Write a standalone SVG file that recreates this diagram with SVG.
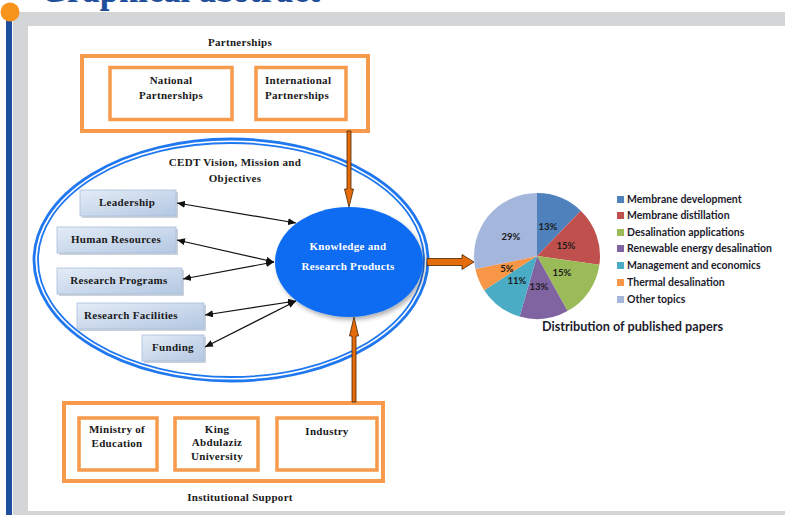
<svg xmlns="http://www.w3.org/2000/svg" width="785" height="515" viewBox="0 0 785 515">
  <defs>
    <style>
      .lbl { font-family: "Liberation Serif", "Times New Roman", serif; font-weight: bold; font-size: 11px; fill: #1a1a1a; letter-spacing: 0.3px; }
      .ctr { text-anchor: middle; }
      .obox { fill: #ffffff; stroke: #f79a4c; stroke-width: 4; }
      .ibox { fill: #ffffff; stroke: #f79a4c; stroke-width: 3.5; }
      .bbox { fill: url(#boxGrad); stroke: #a9bfdc; stroke-width: 0.8; }
      .bshadow { fill: #8e9bab; opacity: 0.45; }
      .ring { fill: none; stroke: #1f78f0; }
      .conn { stroke: #111111; stroke-width: 1.2; fill: none; marker-start: url(#tip); marker-end: url(#tip); }
      .block { fill: #e46c0a; stroke: #4a2500; stroke-width: 0.8; }
      .pie { font-family: Lato, "Liberation Sans", sans-serif; font-weight: bold; font-size: 9.5px; fill: #1a1a1a; text-anchor: middle; }
      .leg { font-family: Lato, "Liberation Sans", sans-serif; font-weight: bold; font-size: 10.5px; fill: #1c1c2c; }
    </style>
    <linearGradient id="boxGrad" x1="0" y1="0" x2="1" y2="1">
      <stop offset="0" stop-color="#e4ecf6"/>
      <stop offset="1" stop-color="#b3c7e2"/>
    </linearGradient>
    <filter id="soft" x="-20%" y="-20%" width="140%" height="140%">
      <feDropShadow dx="2" dy="3" stdDeviation="2" flood-color="#000000" flood-opacity="0.3"/>
    </filter>
    <marker id="tip" viewBox="0 0 8 7" refX="8" refY="3.5" markerWidth="8" markerHeight="7" markerUnits="userSpaceOnUse" orient="auto-start-reverse">
      <path d="M0,0 L8,3.5 L0,7 z" fill="#111111"/>
    </marker>
  </defs>

  <!-- page frame -->
  <rect x="0" y="0" width="785" height="515" fill="#ffffff"/>
  <rect x="13" y="12" width="772" height="14" fill="#d4d5d7"/>
  <rect x="13" y="12" width="15" height="503" fill="#d4d5d7"/>
  <rect x="13" y="511" width="772" height="4" fill="#d4d5d7"/>
  <rect x="6" y="12" width="6" height="503" fill="#1d4f9c"/>
  <circle cx="10" cy="12" r="9.5" fill="#f7941d"/>
  <text x="40" y="1.5" font-family="Liberation Serif, serif" font-weight="bold" font-size="40" fill="#1f4e9a" textLength="280" lengthAdjust="spacingAndGlyphs">Graphical abstract</text>

  <!-- vision ellipse -->
  <g id="vision">
    <ellipse class="ring" cx="231" cy="260" rx="197" ry="121" stroke-width="2.8"/>
    <ellipse class="ring" cx="231" cy="260" rx="193" ry="117" stroke-width="1.8"/>
    <text class="lbl ctr" x="235" y="166">CEDT Vision, Mission and</text>
    <text class="lbl ctr" x="235" y="182">Objectives</text>
  </g>

  <!-- partnerships -->
  <g id="partnerships">
    <text class="lbl ctr" x="240" y="46">Partnerships</text>
    <rect class="obox" x="82" y="56" width="286" height="75"/>
  </g>
  <g id="national">
    <rect class="ibox" x="110" y="67.5" width="122" height="52"/>
    <text class="lbl ctr" x="171" y="84">National</text>
    <text class="lbl ctr" x="171" y="99">Partnerships</text>
  </g>
  <g id="international">
    <rect class="ibox" x="256" y="67.5" width="90" height="52"/>
    <text class="lbl" x="265" y="84">International</text>
    <text class="lbl" x="265" y="99">Partnerships</text>
  </g>

  <!-- pillars -->
  <g id="leadership">
    <rect class="bshadow" x="82" y="192" width="96" height="26"/>
    <rect class="bbox" x="80" y="190" width="96" height="26"/>
    <text class="lbl ctr" x="127" y="206">Leadership</text>
  </g>
  <g id="human-resources">
    <rect class="bshadow" x="59" y="229" width="119" height="26"/>
    <rect class="bbox" x="57" y="227" width="119" height="26"/>
    <text class="lbl ctr" x="116" y="243">Human Resources</text>
  </g>
  <g id="research-programs">
    <rect class="bshadow" x="59" y="270" width="125" height="26"/>
    <rect class="bbox" x="57" y="268" width="125" height="26"/>
    <text class="lbl ctr" x="119" y="284">Research Programs</text>
  </g>
  <g id="research-facilities">
    <rect class="bshadow" x="79" y="305" width="127" height="26"/>
    <rect class="bbox" x="77" y="303" width="127" height="26"/>
    <text class="lbl ctr" x="131" y="319">Research Facilities</text>
  </g>
  <g id="funding">
    <rect class="bshadow" x="144" y="337" width="62" height="26"/>
    <rect class="bbox" x="142" y="335" width="62" height="26"/>
    <text class="lbl ctr" x="173" y="351">Funding</text>
  </g>

  <!-- core -->
  <g id="knowledge">
    <ellipse cx="349" cy="262" rx="74" ry="55" fill="#0b6cf2" filter="url(#soft)"/>
    <text class="lbl ctr" x="348" y="250" style="fill:#ffffff">Knowledge and</text>
    <text class="lbl ctr" x="348" y="270" style="fill:#ffffff">Research Products</text>
  </g>

  <!-- institutional support -->
  <g id="institutional">
    <rect class="obox" x="64" y="403" width="319" height="78"/>
    <text class="lbl ctr" x="240" y="501">Institutional Support</text>
  </g>
  <g id="ministry">
    <rect class="ibox" x="79" y="418" width="78" height="52"/>
    <text class="lbl ctr" x="117" y="433">Ministry of</text>
    <text class="lbl ctr" x="117" y="447">Education</text>
  </g>
  <g id="kau">
    <rect class="ibox" x="175" y="418" width="83" height="52"/>
    <text class="lbl ctr" x="217" y="433">King</text>
    <text class="lbl ctr" x="217" y="446">Abdulaziz</text>
    <text class="lbl ctr" x="217" y="460">University</text>
  </g>
  <g id="industry">
    <rect class="ibox" x="277" y="418" width="100" height="52"/>
    <text class="lbl ctr" x="327" y="435">Industry</text>
  </g>

  <!-- connectors -->
  <g id="connectors">
    <line class="conn" x1="177" y1="203" x2="296" y2="223"/>
    <line class="conn" x1="177" y1="240" x2="274" y2="262"/>
    <line class="conn" x1="183" y1="279" x2="274" y2="262"/>
    <line class="conn" x1="205" y1="315" x2="296" y2="301"/>
    <line class="conn" x1="205" y1="347" x2="296" y2="301"/>
    <polygon class="block" points="347,131 351,131 351,189 353.5,189 349,207 344.5,189 347,189"/>
    <polygon class="block" points="352,402 356,402 356,336 358.5,336 354,317 349.5,336 352,336"/>
    <polygon class="block" points="427,258.5 462,258.5 462,254.5 474,262 462,269.5 462,265.5 427,265.5"/>
  </g>

  <!-- publication chart -->
  <g id="chart">
    <path d="M537,256 L537,193 A63,63 0 0 1 580.77,210.68 Z" fill="#4f81bd"/>
    <path d="M537,256 L580.77,210.68 A63,63 0 0 1 599.39,264.77 Z" fill="#c0504d"/>
    <path d="M537,256 L599.39,264.77 A63,63 0 0 1 567.54,311.10 Z" fill="#9bbb59"/>
    <path d="M537,256 L567.54,311.10 A63,63 0 0 1 519.64,316.56 Z" fill="#8064a2"/>
    <path d="M537,256 L519.64,316.56 A63,63 0 0 1 484.16,290.31 Z" fill="#4bacc6"/>
    <path d="M537,256 L484.16,290.31 A63,63 0 0 1 475.38,269.10 Z" fill="#f79646"/>
    <path d="M537,256 L475.38,269.10 A63,63 0 0 1 537,193 Z" fill="#a5b6dc"/>
    <text class="pie" x="548" y="230">13%</text>
    <text class="pie" x="566" y="249">15%</text>
    <text class="pie" x="562" y="276">15%</text>
    <text class="pie" x="539" y="290">13%</text>
    <text class="pie" x="517" y="284">11%</text>
    <text class="pie" x="507" y="272">5%</text>
    <text class="pie" x="511" y="240">29%</text>
    <text x="542" y="331" font-family="Lato, 'Liberation Sans', sans-serif" font-weight="bold" font-size="12.5" fill="#1c1c2c" textLength="181" lengthAdjust="spacingAndGlyphs">Distribution of published papers</text>
  </g>

  <g id="legend">
    <rect x="617" y="196" width="7" height="7" fill="#4f81bd"/>
    <text class="leg" x="627" y="203">Membrane development</text>
    <rect x="617" y="212" width="7" height="7" fill="#c0504d"/>
    <text class="leg" x="627" y="219">Membrane distillation</text>
    <rect x="617" y="229" width="7" height="7" fill="#9bbb59"/>
    <text class="leg" x="627" y="236">Desalination applications</text>
    <rect x="617" y="245" width="7" height="7" fill="#8064a2"/>
    <text class="leg" x="627" y="252">Renewable energy desalination</text>
    <rect x="617" y="262" width="7" height="7" fill="#4bacc6"/>
    <text class="leg" x="627" y="269">Management and economics</text>
    <rect x="617" y="279" width="7" height="7" fill="#f79646"/>
    <text class="leg" x="627" y="286">Thermal desalination</text>
    <rect x="617" y="296" width="7" height="7" fill="#a5b6dc"/>
    <text class="leg" x="627" y="303">Other topics</text>
  </g>
</svg>
